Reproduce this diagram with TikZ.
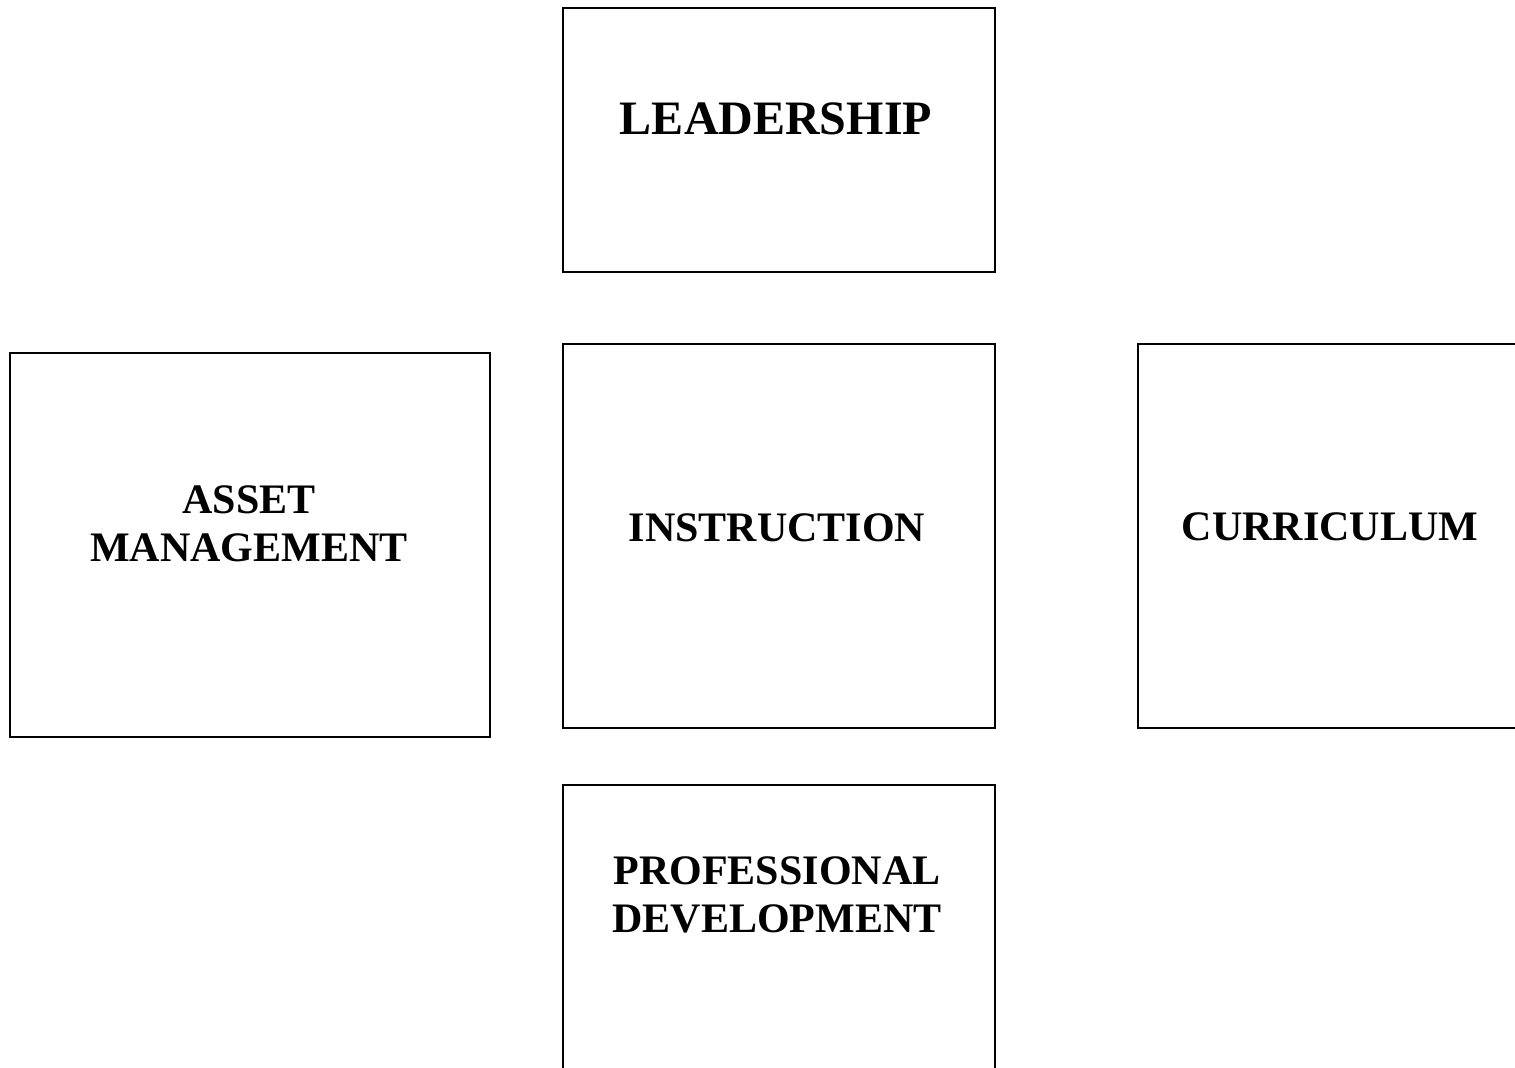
\documentclass[tikz,border=0pt]{standalone}
\usepackage{fontspec}
\setmainfont{Liberation Serif}
\begin{document}
\begin{tikzpicture}[x=0.5pt,y=-0.5pt,
  box/.style={draw=black,line width=1pt},
  lbl/.style={font=\bfseries\fontsize{21}{24}\selectfont,align=center,inner sep=0pt,anchor=base}]
\useasboundingbox (0,0) rectangle (1515,1068);
\begin{scope}
\clip (0,0) rectangle (1515,1068);
\draw[box] (563,8) rectangle (995,272);
\draw[box] (10,353) rectangle (490,737);
\draw[box] (563,344) rectangle (995,728);
\draw[box] (1138,344) rectangle (1540,728);
\draw[box] (563,785) rectangle (995,1100);
\end{scope}
\node[lbl,font=\bfseries\fontsize{24}{28}\selectfont] (lead) at (776,135) {LEADERSHIP};
\node[lbl] (asset) at (249,562) {ASSET\\MANAGEMENT};
\node[lbl] (instr) at (777,542) {INSTRUCTION};
\node[lbl] (curr) at (1330,541) {CURRICULUM};
\node[lbl] (prof) at (777,932) {PROFESSIONAL\\DEVELOPMENT};
\end{tikzpicture}
\end{document}
